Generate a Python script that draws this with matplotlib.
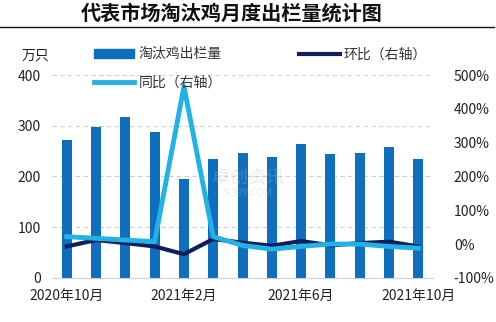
import matplotlib
matplotlib.use("Agg")
import matplotlib.pyplot as plt
from matplotlib.lines import Line2D
from matplotlib.patches import Patch
import numpy as np

plt.rcParams['font.family'] = ['Noto Sans CJK SC', 'DejaVu Sans']

months = ["2020年10月", "2020年11月", "2020年12月", "2021年1月", "2021年2月", "2021年3月",
          "2021年4月", "2021年5月", "2021年6月", "2021年7月", "2021年8月", "2021年9月", "2021年10月"]
volume = [271, 298, 318, 288, 194, 234, 246, 239, 264, 244, 246, 259, 234]
mom = [-7, 12, 3, -7, -30, 15, 4, -5, 9, -4, 3, 7, -7]
yoy = [22, 17, 12, 7, 466, 22, -4, -15, -7, 0, 0, -7, -12]
shown_ticks = [0, 4, 8, 12]

c_bar = '#0F6EBE'
c_mom = '#0E1F5B'
c_yoy = '#22B2E6'

fig = plt.figure(figsize=(4.96, 3.22), dpi=100)
ax = fig.add_axes([0.105, 0.137, 0.768, 0.630])
x = np.arange(len(months))
ax.bar(x, volume, width=0.34, color=c_bar, zorder=2)
ax.set_ylim(0, 400)
ax.set_xlim(-0.5, len(months) - 0.5)
ax.set_yticks([0, 100, 200, 300, 400])
ax.set_xticks(shown_ticks)
ax.set_xticklabels([months[i] for i in shown_ticks])
ax.grid(axis='y', color='#D0D0D0', linestyle=(0, (4, 3)), linewidth=0.8, zorder=0)
for s in ['top', 'right', 'left']:
    ax.spines[s].set_visible(False)
ax.spines['bottom'].set_color('#D0D0D0')
ax.tick_params(axis='both', length=0, labelsize=10, colors='#222222')
ax.tick_params(axis='x', pad=8)
ax.tick_params(axis='y', pad=8)

ax2 = ax.twinx()
ax2.plot(x, mom, color=c_mom, linewidth=3, zorder=3)
ax2.plot(x, yoy, color=c_yoy, linewidth=3.5, zorder=4)
ax2.set_ylim(-100, 500)
ax2.set_yticks(range(-100, 501, 100))
ax2.set_yticklabels([f"{v}%" for v in range(-100, 501, 100)])
for s in ax2.spines.values():
    s.set_visible(False)
ax2.tick_params(axis='y', length=0, labelsize=10, colors='#222222', pad=15)

# watermark
fig.text(0.50, 0.45, "卓创资讯", fontsize=13, color='#BBBBBB', alpha=0.3, ha='center', va='center')
fig.text(0.50, 0.40, "SCI99.COM", fontsize=7, color='#BBBBBB', alpha=0.3, ha='center', va='center')

fig.text(0.072, 0.826, "万只", fontsize=10, ha='center', va='center', color='#222222')

handles = [Patch(color=c_bar), Line2D([], [], color=c_yoy, lw=3.5), Line2D([], [], color=c_mom, lw=3)]
labels = ["淘汰鸡出栏量", "同比（右轴）", "环比（右轴）"]
fig.legend(handles, labels, ncol=2, loc='upper left', bbox_to_anchor=(0.178, 0.87),
           frameon=False, fontsize=10, handlelength=2.9, handleheight=0.6,
           columnspacing=5.6, labelspacing=1.0, handletextpad=0.3, borderaxespad=0,
           labelcolor='#333333')

fig.text(0.468, 0.958, "代表市场淘汰鸡月度出栏量统计图", fontsize=14.5, fontweight='heavy',
         ha='center', va='center', color='#111111')
fig.add_artist(Line2D([0.0, 0.995], [0.916, 0.916], color='#111111', lw=1.0))

fig.savefig("out.png", dpi=100, facecolor='white')
